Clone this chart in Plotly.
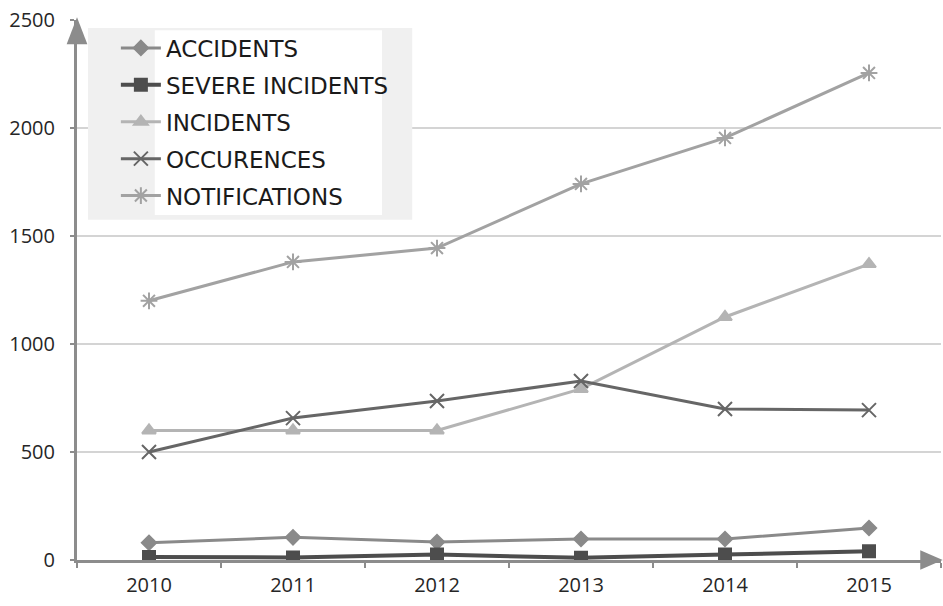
import plotly.graph_objects as go

years = ["2010", "2011", "2012", "2013", "2014", "2015"]
accidents = [80, 105, 83, 97, 97, 148]
severe_incidents = [14, 12, 25, 10, 25, 40]
incidents = [600, 600, 600, 792, 1125, 1370]
occurences = [500, 657, 736, 829, 699, 694]
notifications = [1200, 1380, 1444, 1741, 1954, 2255]
y_ticks = [0, 500, 1000, 1500, 2000, 2500]

series = [
    ("ACCIDENTS", accidents, "#8a8a8a", "diamond", 11, 3),
    ("SEVERE INCIDENTS", severe_incidents, "#4d4d4d", "square", 12, 4),
    ("INCIDENTS", incidents, "#b4b4b4", "triangle-up", 12, 3),
    ("OCCURENCES", occurences, "#666666", "x-thin-open", 14, 3),
    ("NOTIFICATIONS", notifications, "#a2a2a2", "asterisk-open", 14, 3),
]

fig = go.Figure()
for i, (name, vals, col, sym, sz, lw) in enumerate(series):
    fig.add_trace(go.Scatter(
        x=years, y=vals, name=name, mode="lines+markers",
        line=dict(color=col, width=lw),
        marker=dict(symbol=sym, size=sz, color=col, line=dict(color=col, width=2)),
        legendgroup=f"g{i}",
    ))

font_family = "Open Sans, Liberation Sans, sans-serif"

fig.update_layout(
    width=943, height=606,
    margin=dict(l=77, r=2, t=20, b=46),
    paper_bgcolor="white", plot_bgcolor="white",
    showlegend=True,
    legend=dict(
        x=0.045, y=0.988, xanchor="left", yanchor="top",
        bgcolor="rgba(0,0,0,0)", borderwidth=0,
        font=dict(family="DejaVu Sans, sans-serif", size=23, color="#1a1a1a"),
        tracegroupgap=4, itemwidth=40,
    ),
    xaxis=dict(
        type="category", range=[-0.5, 5.5],
        showline=True, linecolor="#8c8c8c", linewidth=3,
        ticks="outside", tickson="boundaries", ticklen=5, tickcolor="#8c8c8c", tickwidth=2,
        showgrid=False, zeroline=False, ticklabelstandoff=5,
        tickfont=dict(family=font_family, size=20, color="#262626"),
    ),
    yaxis=dict(
        range=[0, 2500], tickvals=y_ticks,
        showline=True, linecolor="#8c8c8c", linewidth=3,
        ticks="outside", ticklen=4, tickcolor="#8c8c8c", tickwidth=2,
        showgrid=True, gridcolor="#d4d4d4", gridwidth=1.5,
        zeroline=False, ticklabelstandoff=11,
        tickfont=dict(family=font_family, size=20, color="#262626"),
    ),
    shapes=[
        # legend background (grey frame) and white text block
        dict(type="rect", xref="paper", yref="paper", x0=0.0127, x1=0.388, y0=0.63, y1=0.985,
             fillcolor="#f0f0f0", line=dict(width=0), layer="above"),
        dict(type="rect", xref="paper", yref="paper", x0=0.09, x1=0.353, y0=0.639, y1=0.981,
             fillcolor="white", line=dict(width=0), layer="above"),
        # axis arrowheads
        dict(type="path", xref="paper", yref="paper",
             path="M -0.012 0.955 L 0.012 0.955 L 0 1.005 Z",
             fillcolor="#8c8c8c", line=dict(width=0), layer="above"),
        dict(type="path", xref="paper", yref="paper",
             path="M 0.976 -0.018 L 0.976 0.018 L 1.002 0 Z",
             fillcolor="#8c8c8c", line=dict(width=0), layer="above"),
    ],
)

fig.write_html("out.html")
